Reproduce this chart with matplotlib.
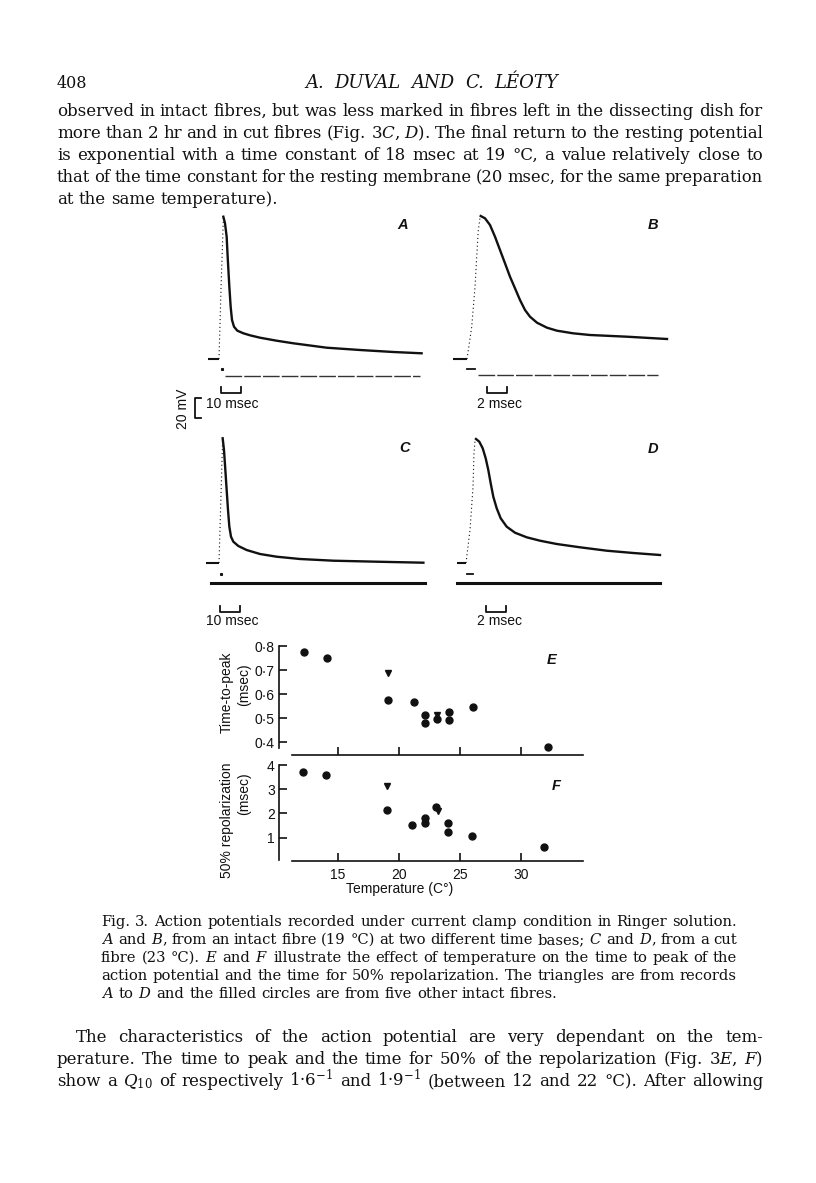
import matplotlib
matplotlib.use('Agg')
import matplotlib.pyplot as plt

plt.rcParams['font.family'] = ['Liberation Sans', 'DejaVu Sans']
plt.rcParams['mathtext.fontset'] = 'dejavuserif'

W, H = 816, 1183
INK = '#111111'

# ---------------- data ----------------
# action potential records: (time msec, mV above resting level)
a_base = [(-5.5, 0), (0, 0)]
a_rise = [(0, 0), (1, 70), (2.2, 142)]
a_fall = [(2.17, 142.3), (3.0, 135.7), (3.83, 122.3), (4.33, 102.3), (5.17, 72.3),
          (5.83, 52.3), (6.5, 39), (7.5, 32.3), (9.17, 28.3), (12.2, 25.7),
          (15.5, 23.7), (20.5, 21.3), (28.8, 18.3), (37.2, 15.7), (53.8, 11.3),
          (70.5, 9), (87.2, 7), (101.3, 5.7)]
a_current = [(3, -17), (100.5, -17)]
a_artefact = [(1.5, -10)]

b_base = [(-1.4, 0), (0, 0)]
b_rise = [(0, 0), (0.47, 32), (0.8, 72), (0.97, 102), (1.13, 129), (1.3, 141), (1.37, 143)]
b_fall = [(1.37, 143), (1.8, 140.7), (2.3, 134), (2.8, 122.3), (3.3, 109), (3.8, 95.7),
          (4.3, 82.3), (4.8, 70.7), (5.3, 59), (5.8, 49), (6.3, 42.3), (7.0, 36.3),
          (8.0, 31.3), (9.0, 28.3), (10.6, 25.7), (12.3, 24), (16.0, 22.3), (20.0, 20)]
b_current = [(1.1, -16), (19.1, -16)]
b_artefact = [(0, -10), (0.8, -10)]

c_base = [(-6.5, 0), (0, 0)]
c_rise = [(0, 0), (1.83, 124.7)]
c_fall = [(1.83, 124.7), (2.5, 113), (3.17, 93), (3.83, 73), (4.5, 53), (5.17, 36.3),
          (6.0, 26.3), (7.17, 21.3), (9.67, 17), (13.8, 13), (20.5, 9), (28.8, 6.3),
          (40.5, 4), (57.2, 2.3), (78.8, 1.3), (102.2, 0.3)]
c_current = [(-4, -20), (103, -20)]
c_artefact = [(1, -11)]

d_base = [(-0.9, 0), (0, 0)]
d_rise = [(0, 0), (0.4, 33), (0.7, 76), (0.8, 110), (0.9, 122), (1.0, 124)]
d_fall = [(1.0, 124), (1.33, 121.3), (1.67, 114.7), (1.97, 104.7), (2.23, 93), (2.47, 79.7),
          (2.73, 66.3), (3.07, 54.7), (3.47, 44.7), (4.07, 36.3), (4.9, 30.3), (6.07, 25.7),
          (7.4, 22.3), (9.07, 19), (11.4, 15.7), (14.07, 12.3), (16.73, 10), (19.4, 8)]
d_current = [(-0.9, -20), (19.4, -20)]
d_artefact = [(0.1, -11), (0.7, -11)]

# E and F: temperature (C) against time-to-peak and 50% repolarization (msec)
temp_circ_e = [12.2, 14.1, 19.1, 21.2, 22.1, 22.1, 23.1, 24.1, 24.1, 26.1, 32.2]
ttp_circ = [0.778, 0.750, 0.576, 0.567, 0.515, 0.479, 0.496, 0.525, 0.493, 0.546, 0.382]
temp_tri_e = [19.1, 23.1]
ttp_tri = [0.688, 0.514]

temp_circ_f = [12.1, 14.0, 19.0, 21.1, 22.1, 22.1, 23.0, 24.0, 24.0, 26.0, 31.9]
rep_circ = [3.71, 3.57, 2.15, 1.53, 1.81, 1.60, 2.25, 1.60, 1.25, 1.06, 0.625]
temp_tri_f = [19.0, 23.2]
rep_tri = [3.125, 2.10]

ttp_ticks = [0.4, 0.5, 0.6, 0.7, 0.8]
ttp_ticklabels = ['0·4', '0·5', '0·6', '0·7', '0·8']
rep_ticks = [1, 2, 3, 4]
temp_ticks = [15, 20, 25, 30]

header_left = '408'
header = 'A. DUVAL AND C. LÉOTY'
body_lines = [
    'observed in intact fibres, but was less marked in fibres left in the dissecting dish for',
    r'more than 2 hr and in cut fibres (Fig. 3$\mathit{C}$, $\mathit{D}$). The final return to the resting potential',
    'is exponential with a time constant of 18 msec at 19 °C, a value relatively close to',
    'that of the time constant for the resting membrane (20 msec, for the same preparation',
    'at the same temperature).',
]
caption_lines = [
    'Fig. 3. Action potentials recorded under current clamp condition in Ringer solution.',
    r'$\mathit{A}$ and $\mathit{B}$, from an intact fibre (19 °C) at two different time bases; $\mathit{C}$ and $\mathit{D}$, from a cut',
    r'fibre (23 °C). $\mathit{E}$ and $\mathit{F}$ illustrate the effect of temperature on the time to peak of the',
    'action potential and the time for 50% repolarization. The triangles are from records',
    r'$\mathit{A}$ to $\mathit{D}$ and the filled circles are from five other intact fibres.',
]
after_lines = [
    'The characteristics of the action potential are very dependant on the tem-',
    r'perature. The time to peak and the time for 50% of the repolarization (Fig. 3$\mathit{E}$, $\mathit{F}$)',
    r'show a $Q_{10}$ of respectively 1·6$^{-1}$ and 1·9$^{-1}$ (between 12 and 22 °C). After allowing',
]

# ---------------- figure ----------------
fig = plt.figure(figsize=(W / 100, H / 100), dpi=100)
fig.patch.set_facecolor('white')
renderer = fig.canvas.get_renderer()


def box(x0, y0, x1, y1):
    # pixel box (top-left origin) -> figure fraction rect
    return [x0 / W, 1 - y1 / H, (x1 - x0) / W, (y1 - y0) / H]


def put_line(line, x0, x1, y, size, last=False, **kw):
    # lay a line of words out justified between x0 and x1 (pixels)
    words = line.split(' ')
    texts = [fig.text(0, 1 - y / H, w, fontsize=size, va='baseline', ha='left',
                      color=INK, **kw) for w in words]
    while True:
        widths = [t.get_window_extent(renderer).width for t in texts]
        em = size * 100 / 72
        if last or len(words) == 1:
            gap = 0.32 * em
            break
        gap = (x1 - x0 - sum(widths)) / (len(words) - 1)
        if gap >= 0.2 * em:
            break
        size -= 0.2
        for t in texts:
            t.set_fontsize(size)
    x = x0
    for t, w in zip(texts, widths):
        t.set_x(x / W)
        x += w + gap


serif = dict(family='DejaVu Serif')

# header and text above the figure
fig.text(57 / W, 1 - 88 / H, header_left, fontsize=11.5, va='baseline', color=INK, **serif)
put_line(header, 305, 558, 88, 13, style='italic', **serif)
for i, line in enumerate(body_lines):
    put_line(line, 57, 763, 116 + 22 * i, 12, last=(i == len(body_lines) - 1), **serif)

# caption and text below
for i, line in enumerate(caption_lines):
    put_line(line, 101, 737, 926 + 18 * i, 10.6, last=(i == len(caption_lines) - 1), **serif)
put_line(after_lines[0], 76, 763, 1042, 12, **serif)
for i, line in enumerate(after_lines[1:]):
    put_line(line, 57, 763, 1064 + 22 * i, 12, **serif)


# ---------------- voltage records A-D ----------------
def draw_record(rect, xlim, ylim, base, rise, fall, current, artefact, thick_current):
    ax = fig.add_axes(rect)
    ax.set_xlim(*xlim)
    ax.set_ylim(*ylim)
    ax.axis('off')
    ax.plot(*zip(*base), color=INK, lw=1.5, solid_capstyle='butt')
    ax.plot(*zip(*rise), color=INK, lw=0.8, linestyle=(0, (1, 2.5)))
    ax.plot(*zip(*fall), color=INK, lw=1.7, solid_joinstyle='round')
    if thick_current:
        ax.plot(*zip(*current), color=INK, lw=2.2)
    else:
        ax.plot(*zip(*current), color='#333333', lw=1.0, linestyle=(0, (12, 1.5)))
    if len(artefact) == 1:
        ax.plot(*zip(*artefact), 's', color=INK, ms=1.2)
    else:
        ax.plot(*zip(*artefact), color=INK, lw=1.3)
    return ax


def time_bar(ax, t0, length, v_top, v_bot):
    ax.plot([t0, t0, t0 + length, t0 + length], [v_top, v_bot, v_bot, v_top],
            color=INK, lw=1.3, clip_on=False)


ax_a = draw_record(box(200, 205, 430, 400), (-9.5, 105.5), (-41, 154),
                   a_base, a_rise, a_fall, a_current, a_artefact, False)
ax_b = draw_record(box(445, 205, 680, 400), (-2.2, 21.3), (-41, 154),
                   b_base, b_rise, b_fall, b_current, b_artefact, False)
ax_c = draw_record(box(200, 425, 430, 620), (-9.5, 105.5), (-57, 138),
                   c_base, c_rise, c_fall, c_current, c_artefact, True)
ax_d = draw_record(box(445, 425, 680, 620), (-2.1, 21.4), (-57, 138),
                   d_base, d_rise, d_fall, d_current, d_artefact, True)

time_bar(ax_a, 1, 10, -28, -34)
time_bar(ax_b, 2, 2, -28, -34)
time_bar(ax_c, 0.5, 10, -43, -49)
time_bar(ax_d, 2, 2, -43, -49)
# 20 mV calibration
ax_a.plot([-9, -12, -12, -9], [-39, -39, -59, -59], color=INK, lw=1.3, clip_on=False)

fig.text(183 / W, 1 - 409 / H, '20 mV', rotation=90, ha='center', va='center', fontsize=10, color=INK)
for x, y, s in [(206, 404, '10 msec'), (477, 404, '2 msec'), (206, 621, '10 msec'), (477, 621, '2 msec')]:
    fig.text(x / W, 1 - y / H, s, ha='left', va='center', fontsize=10, color=INK)
for x, y, s in [(403, 225, 'A'), (653, 225, 'B'), (405, 448, 'C'), (653, 449, 'D'),
                (552, 660, 'E'), (556, 786, 'F')]:
    fig.text(x / W, 1 - y / H, s, ha='center', va='center', fontsize=10.5,
             style='italic', weight='bold', color=INK)


# ---------------- E and F ----------------
def style_scatter(ax, xlim, ylim, ybounds):
    ax.set_xlim(*xlim)
    ax.set_ylim(*ylim)
    ax.patch.set_alpha(0)
    for s in ['top', 'right']:
        ax.spines[s].set_visible(False)
    for s in ['left', 'bottom']:
        ax.spines[s].set_linewidth(1.2)
        ax.spines[s].set_color(INK)
    ax.spines['left'].set_bounds(*ybounds)
    ax.spines['bottom'].set_bounds(11.2, xlim[1])
    ax.set_xticks(temp_ticks)
    ax.tick_params(direction='in', length=6, width=1.2, labelsize=10, colors=INK)
    ax.tick_params(axis='y', pad=3)
    ax.tick_params(axis='x', pad=5)


ax_e = fig.add_axes(box(279, 641, 583, 755))
ax_e.plot(temp_circ_e, ttp_circ, 'o', color=INK, ms=5, clip_on=False)
ax_e.plot(temp_tri_e, ttp_tri, 'v', color=INK, ms=4.5, clip_on=False)
style_scatter(ax_e, (10.16, 35.08), (0.347, 0.822), (0.375, 0.8))
ax_e.set_yticks(ttp_ticks)
ax_e.set_yticklabels(ttp_ticklabels)
ax_e.set_xticklabels([])

ax_f = fig.add_axes(box(279, 760, 583, 861))
ax_f.plot(temp_circ_f, rep_circ, 'o', color=INK, ms=5, clip_on=False)
ax_f.plot(temp_tri_f, rep_tri, 'v', color=INK, ms=4.5, clip_on=False)
style_scatter(ax_f, (10.16, 35.08), (0.037, 4.21), (0.07, 4.0))
ax_f.set_yticks(rep_ticks)
ax_f.set_xticklabels([str(t) for t in temp_ticks])

fig.text(227 / W, 1 - 692 / H, 'Time-to-peak', rotation=90, ha='center', va='center', fontsize=10, color=INK)
fig.text(244 / W, 1 - 685 / H, '(msec)', rotation=90, ha='center', va='center', fontsize=10, color=INK)
fig.text(227 / W, 1 - 820 / H, '50% repolarization', rotation=90, ha='center', va='center', fontsize=10, color=INK)
fig.text(244 / W, 1 - 794 / H, '(msec)', rotation=90, ha='center', va='center', fontsize=10, color=INK)
fig.text(400 / W, 1 - 889 / H, 'Temperature (C°)', ha='center', va='center', fontsize=10, color=INK)

fig.savefig('out.png', dpi=100, facecolor='white')
